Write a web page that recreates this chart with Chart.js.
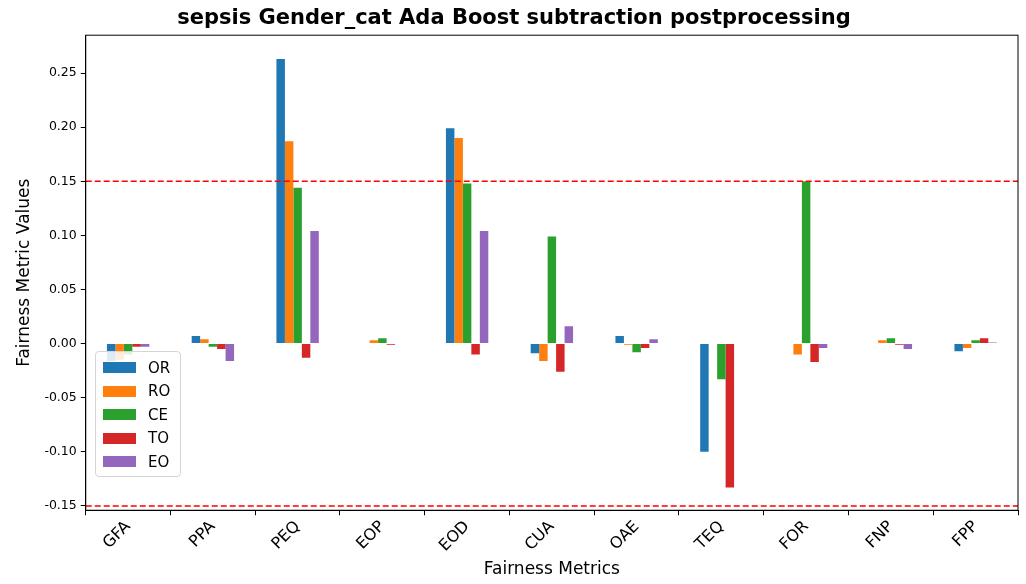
<!DOCTYPE html>
<html><head>
<script src="https://cdn.jsdelivr.net/npm/chart.js@4"></script>
<style>
body{margin:0;background:#fff;font-family:"DejaVu Sans",sans-serif}
#wrap{position:relative;width:1026px;height:584px}
#legend{position:absolute;left:95px;top:351px;width:84px;border:1px solid #d5d5d5;border-radius:4px;background:rgba(255,255,255,0.85);padding:4px 0 2px 0}
.item{display:flex;align-items:center;height:23.5px;font-size:15px;color:#000}
.sw{width:33px;height:11px;margin:0 12px 0 7px}
</style>
</head><body>
<div id="wrap"><canvas id="c" width="1026" height="584"></canvas>
<div id="legend"></div></div>
<script>
var categories = ["GFA","PPA","PEQ","EOP","EOD","CUA","OAE","TEQ","FOR","FNP","FPP"];
var seriesNames = ["OR","RO","CE","TO","EO"];
var OR = [-0.016, 0.007, 0.263, 0.000, 0.199, -0.009, 0.007, -0.100, 0.000, 0.000, -0.007];
var RO = [-0.015, 0.004, 0.187, 0.003, 0.190, -0.016, -0.001, 0.000, -0.010, 0.003, -0.004];
var CE = [-0.010, -0.003, 0.144, 0.005, 0.148, 0.099, -0.008, -0.033, 0.150, 0.005, 0.003];
var TO = [-0.003, -0.005, -0.013, -0.001, -0.010, -0.026, -0.004, -0.133, -0.017, -0.001, 0.005];
var EO = [-0.003, -0.016, 0.104, 0.000, 0.104, 0.016, 0.004, 0.000, -0.004, -0.005, 0.001];
var thresholds = [0.15, -0.15];
var colors = ["#1f77b4","#ff7f0e","#2ca02c","#d62728","#9467bd"];
var values = [OR, RO, CE, TO, EO];

var leg = document.getElementById("legend");
seriesNames.forEach(function(n,i){
  leg.innerHTML += '<div class="item"><div class="sw" style="background:'+colors[i]+'"></div>'+n+'</div>';
});

var lines = {
  id: "lines",
  afterDatasetsDraw: function(chart){
    var ctx = chart.ctx, a = chart.chartArea, y = chart.scales.y;
    ctx.save();
    ctx.strokeStyle = "red"; ctx.lineWidth = 1.5; ctx.setLineDash([6,3]);
    thresholds.forEach(function(t){
      var py = y.getPixelForValue(t);
      ctx.beginPath(); ctx.moveTo(a.left, py); ctx.lineTo(a.right, py); ctx.stroke();
    });
    ctx.restore();
    ctx.save(); ctx.strokeStyle="#000"; ctx.lineWidth=1;
    ctx.strokeRect(a.left, a.top, a.right-a.left, a.bottom-a.top);
    ctx.restore();
  }
};

var tickGrid = {display:true, drawOnChartArea:false, drawTicks:true, tickLength:5, color:"#000"};

new Chart(document.getElementById("c"), {
  type: "bar",
  data: {
    labels: categories,
    datasets: seriesNames.map(function(n,i){
      return {label:n, data:values[i], backgroundColor:colors[i], categoryPercentage:0.5, barPercentage:1.0};
    })
  },
  options: {
    responsive:false, animation:false,
    layout:{padding:{left:10,right:8,top:2,bottom:4}},
    plugins:{
      legend:{display:false},
      tooltip:{enabled:false},
      title:{display:true,text:"sepsis Gender_cat Ada Boost subtraction postprocessing",
        color:"#000",font:{size:21,weight:"bold",family:"DejaVu Sans"},padding:{top:4,bottom:4}}
    },
    scales:{
      x:{grid:tickGrid,border:{color:"#000"},
        ticks:{color:"#000",font:{size:16,family:"DejaVu Sans"},maxRotation:45,minRotation:45,padding:2},
        title:{display:true,text:"Fairness Metrics",color:"#000",font:{size:17,family:"DejaVu Sans"},padding:{top:2,bottom:0}}},
      y:{min:-0.154,max:0.285,grid:tickGrid,border:{color:"#000"},
        afterBuildTicks:function(s){s.ticks=[-0.15,-0.1,-0.05,0,0.05,0.1,0.15,0.2,0.25].map(function(v){return {value:v};});},
        ticks:{color:"#000",font:{size:12.5,family:"DejaVu Sans"},padding:4,callback:function(v){return v.toFixed(2);}},
        title:{display:true,text:"Fairness Metric Values",color:"#000",font:{size:17,family:"DejaVu Sans"},padding:{bottom:6}}}
    }
  },
  plugins:[lines]
});
</script>
</body></html>
